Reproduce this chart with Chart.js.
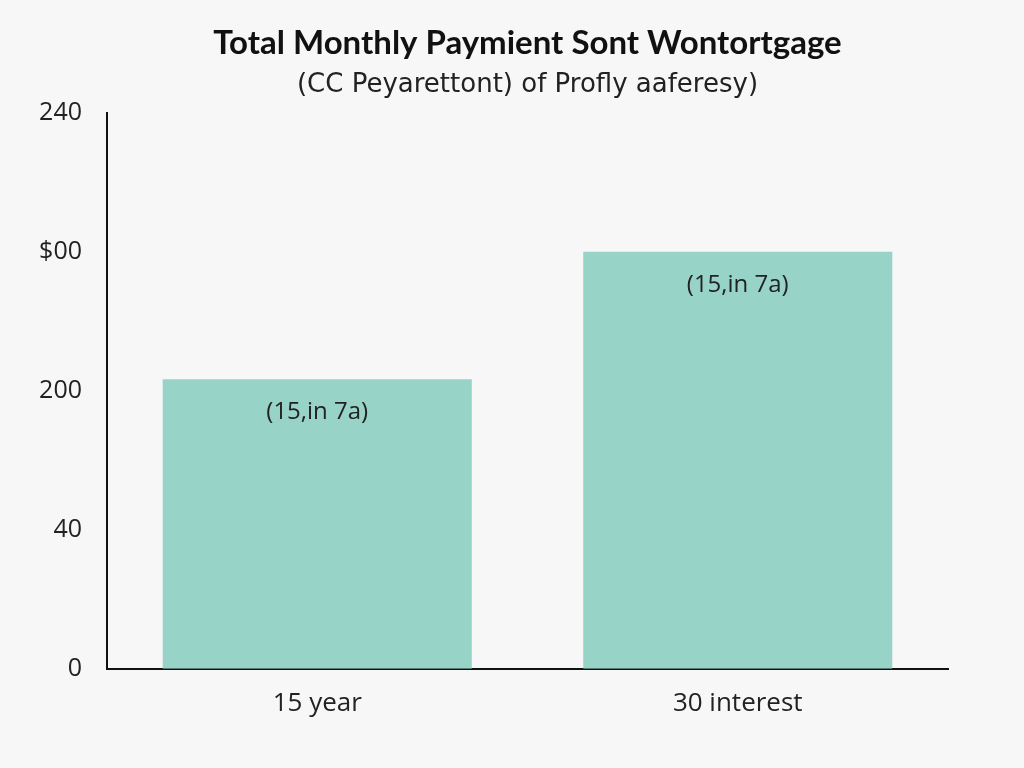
<!DOCTYPE html>
<html>
<head>
<meta charset="utf-8">
<script src="https://cdn.jsdelivr.net/npm/chart.js@4.4.0/dist/chart.umd.min.js"></script>
<style>
  html, body { margin: 0; padding: 0; background: #f7f7f7; }
  #wrap { width: 1024px; height: 768px; }
</style>
</head>
<body>
<div id="wrap"><canvas id="c" width="1024" height="768"></canvas></div>
<script>
const categories = ["15 year", "30 interest"];
const paymentValues = [125, 180];
const barLabels = ["(15,in 7a)", "(15,in 7a)"];
const yTickLabels = ["0", "40", "200", "$00", "240"];
const titleText = "Total Monthly Paymient Sont Wontortgage";
const subtitleText = "(CC Peyarettont) of Profly aaferesy)";

const bgPlugin = {
  id: 'bg',
  beforeDraw(chart) {
    const ctx = chart.ctx;
    ctx.save();
    ctx.fillStyle = '#f7f7f7';
    ctx.fillRect(0, 0, chart.width, chart.height);
    ctx.restore();
  }
};

const barLabelPlugin = {
  id: 'barLabels',
  afterDatasetsDraw(chart) {
    const ctx = chart.ctx;
    const meta = chart.getDatasetMeta(0);
    ctx.save();
    ctx.font = '24px "Open Sans"';
    ctx.fillStyle = '#222';
    ctx.textAlign = 'center';
    ctx.textBaseline = 'middle';
    meta.data.forEach((bar, i) => {
      ctx.fillText(barLabels[i], bar.x, bar.y + 33);
    });
    ctx.restore();
  }
};

new Chart(document.getElementById('c'), {
  type: 'bar',
  data: {
    labels: categories,
    datasets: [{
      data: paymentValues,
      backgroundColor: '#97d3c6',
      borderWidth: 0,
      barPercentage: 0.735,
      categoryPercentage: 1
    }]
  },
  options: {
    responsive: false,
    animation: false,
    devicePixelRatio: 1,
    layout: { padding: { left: 0, right: 76, top: 0, bottom: 30 } },
    plugins: {
      legend: { display: false },
      tooltip: { enabled: false },
      title: {
        display: true,
        text: titleText,
        fullSize: false,
        color: '#111',
        font: { family: 'Lato', size: 33, weight: 'bold' },
        padding: { top: 24, bottom: 6 }
      },
      subtitle: {
        display: true,
        text: subtitleText,
        fullSize: false,
        color: '#222',
        font: { family: 'DejaVu Sans', size: 26 },
        padding: { top: 0, bottom: 12 }
      }
    },
    scales: {
      x: {
        grid: { display: false, drawTicks: false },
        border: { display: true, color: '#111', width: 2 },
        ticks: { color: '#222', font: { family: 'Open Sans', size: 26 }, padding: 19 }
      },
      y: {
        min: 0,
        max: 240,
        grid: { display: false, drawTicks: false },
        border: { display: true, color: '#111', width: 2 },
        ticks: {
          stepSize: 60,
          color: '#222',
          font: { family: 'Open Sans', size: 25 },
          padding: 25,
          callback: (v, i) => yTickLabels[i]
        },
        afterFit(scale) { scale.width = 107; }
      }
    }
  },
  plugins: [bgPlugin, barLabelPlugin]
});
</script>
</body>
</html>
